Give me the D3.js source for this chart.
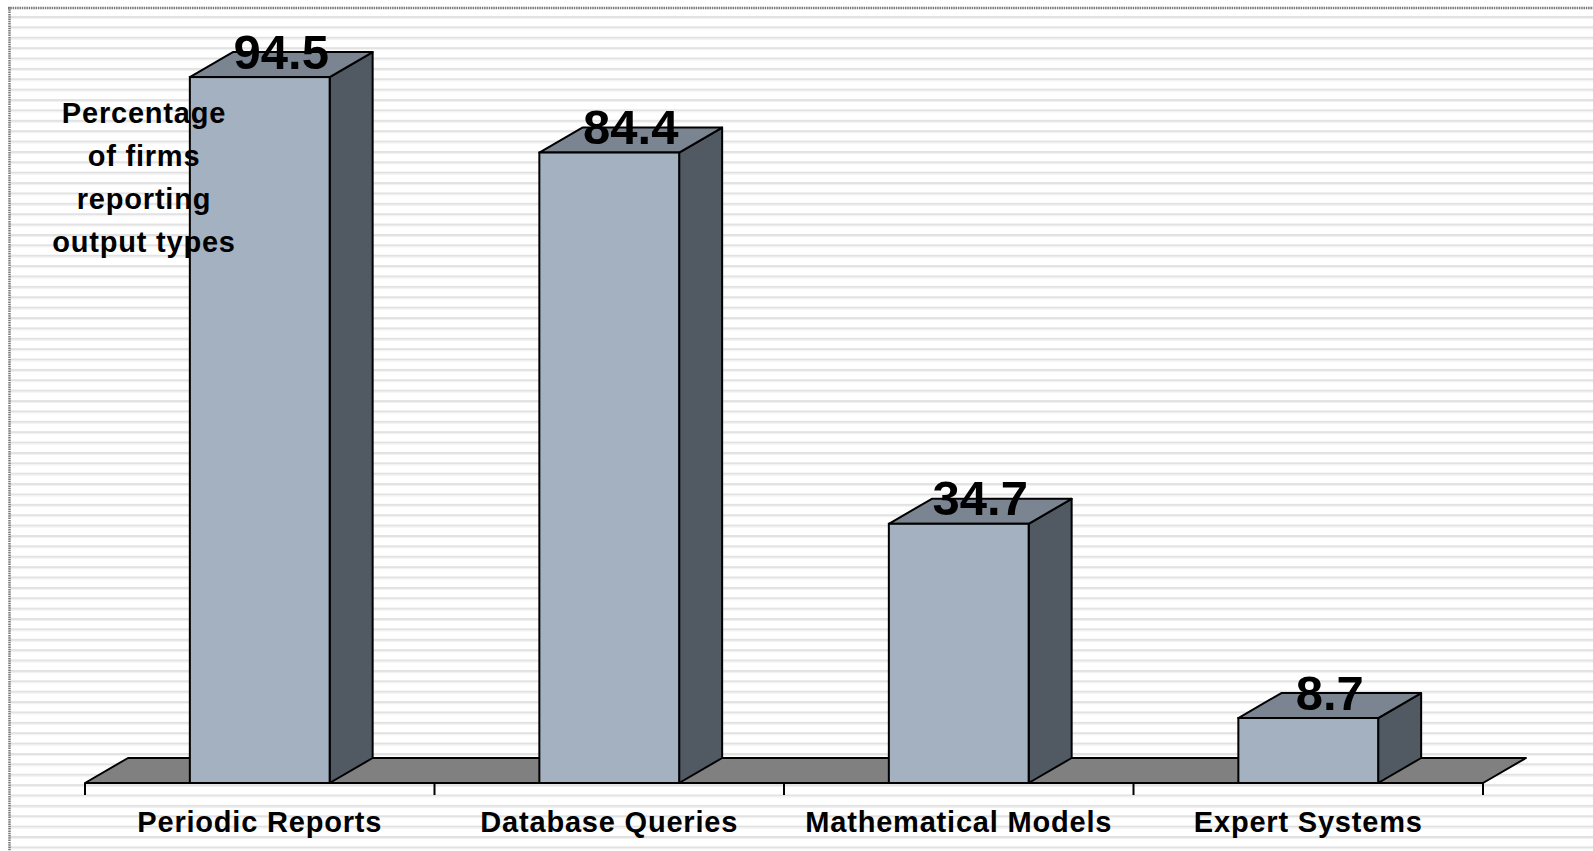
<!DOCTYPE html>
<html>
<head>
<meta charset="utf-8">
<script src="https://cdn.jsdelivr.net/npm/d3@7"></script>
<style>
  html, body { margin: 0; padding: 0; background: #ffffff; }
  svg { display: block; }
  text { font-family: "Liberation Sans", Arial, sans-serif; font-weight: bold; fill: #000; }
</style>
</head>
<body>
<script>
// Output types reported by firms (percentage of firms)
const categories = ["Periodic Reports", "Database Queries", "Mathematical Models", "Expert Systems"];
const values = [94.5, 84.4, 34.7, 8.7];
const titleLines = ["Percentage", "of firms", "reporting", "output types"];

const W = 1593, H = 851;
const svg = d3.select("body").append("svg").attr("width", W).attr("height", H);

// striped backdrop inside the frame
const bg = svg.append("g");
bg.append("rect").attr("x", 9).attr("y", 8).attr("width", W - 9).attr("height", H - 8).attr("fill", "#ffffff");
const stripeY = d3.range(16, H, 10.38);
bg.selectAll("rect.stripe").data(stripeY).join("rect")
  .attr("class", "stripe")
  .attr("x", 10).attr("width", W - 10)
  .attr("y", d => d).attr("height", 2)
  .attr("fill", "#e2e2e2");
bg.selectAll("rect.stripe2").data(stripeY).join("rect")
  .attr("class", "stripe2")
  .attr("x", 10).attr("width", W - 10)
  .attr("y", d => d + 2).attr("height", 1)
  .attr("fill", "#f1f1f1");

// frame lines (dotted)
svg.append("line").attr("x1", 8).attr("x2", W).attr("y1", 8).attr("y2", 8)
  .attr("stroke", "#7a7a7a").attr("stroke-width", 2.5).attr("stroke-dasharray", "1.5,0.8");
svg.append("line").attr("x1", 9.5).attr("x2", 9.5).attr("y1", 7).attr("y2", H)
  .attr("stroke", "#7a7a7a").attr("stroke-width", 2.5).attr("stroke-dasharray", "1.5,0.8");

// plot geometry
const x0 = 85, x1 = 1483;       // front edge of the floor
const baseY = 783;              // floor front line
const depthX = 43, depthY = 25; // 3-D offset toward the back
const x = d3.scaleBand().domain(categories).range([x0, x1]).paddingInner(0).paddingOuter(0);
const y = d3.scaleLinear().domain([0, 100]).range([baseY, baseY - 747]);
const barW = x.bandwidth() * 0.4;

const plot = svg.append("g");

// floor
plot.append("path")
  .attr("d", `M${x0},${baseY}L${x1},${baseY}L${x1 + depthX},${baseY - depthY}L${x0 + depthX},${baseY - depthY}Z`)
  .attr("fill", "#808080").attr("stroke", "#000").attr("stroke-width", 2).attr("stroke-linejoin", "round");

// category axis ticks
const ticks = categories.map(c => x(c)).concat([x1]);
plot.selectAll("line.tick").data(ticks).join("line")
  .attr("class", "tick")
  .attr("x1", d => d).attr("x2", d => d)
  .attr("y1", baseY).attr("y2", baseY + 12)
  .attr("stroke", "#000").attr("stroke-width", 2);

// bars
const data = categories.map((c, i) => ({ c, v: values[i] }));
const bars = plot.selectAll("g.bar").data(data).join("g").attr("class", "bar");
const left = d => x(d.c) + (x.bandwidth() - barW) / 2;

bars.append("path") // side face
  .attr("d", d => {
    const l = left(d), t = y(d.v), r = l + barW;
    return `M${r},${t}L${r + depthX},${t - depthY}L${r + depthX},${baseY - depthY}L${r},${baseY}Z`;
  })
  .attr("fill", "#515962").attr("stroke", "#000").attr("stroke-width", 2).attr("stroke-linejoin", "round");

bars.append("path") // top face
  .attr("d", d => {
    const l = left(d), t = y(d.v), r = l + barW;
    return `M${l},${t}L${l + depthX},${t - depthY}L${r + depthX},${t - depthY}L${r},${t}Z`;
  })
  .attr("fill", "#7a8591").attr("stroke", "#000").attr("stroke-width", 2).attr("stroke-linejoin", "round");

bars.append("rect") // front face
  .attr("x", left).attr("y", d => y(d.v))
  .attr("width", barW).attr("height", d => baseY - y(d.v))
  .attr("fill", "#a3b1c0").attr("stroke", "#000").attr("stroke-width", 2);

// value labels
bars.append("text")
  .attr("x", d => left(d) + barW / 2 + depthX / 2)
  .attr("y", d => y(d.v) - 8.5)
  .attr("text-anchor", "middle")
  .attr("font-size", 49)
  .text(d => d.v.toFixed(1));

// category labels
plot.selectAll("text.cat").data(categories).join("text")
  .attr("class", "cat")
  .attr("x", d => x(d) + x.bandwidth() / 2)
  .attr("y", 832)
  .attr("text-anchor", "middle")
  .attr("font-size", 29)
  .attr("letter-spacing", 0.8)
  .text(d => d);

// axis title
svg.append("g").selectAll("text").data(titleLines).join("text")
  .attr("x", 144)
  .attr("y", (d, i) => 123 + i * 43)
  .attr("text-anchor", "middle")
  .attr("font-size", 29)
  .attr("letter-spacing", 0.8)
  .text(d => d);
</script>
</body>
</html>
